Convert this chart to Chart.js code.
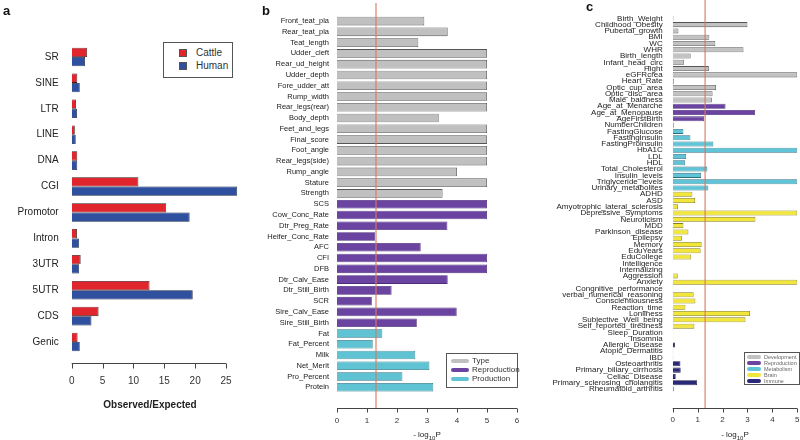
<!DOCTYPE html>
<html>
<head>
<meta charset="utf-8">
<script src="https://cdn.jsdelivr.net/npm/chart.js@4.4.1/dist/chart.umd.min.js"></script>
<style>
    body { margin: 0; background: #fff; font-family: "Liberation Sans", Arial, sans-serif; }
    #wrap { position: relative; width: 800px; height: 440px; overflow: hidden; background: #fff; }
    canvas { position: absolute; top: 0; }
    .tag { position: absolute; font-weight: bold; font-size: 13px; color: #111; }
    .title { position: absolute; color: #222; white-space: nowrap; transform: translateX(-50%); }
    .legend { position: absolute; border: 1px solid #555; background: #fff; color: #333; }
    .legend div { position: relative; white-space: nowrap; }
    .legend span { position: absolute; left: 0; }
</style>
</head>
<body>
<div id="wrap">
    <canvas id="chartA" width="250" height="440" style="left:0"></canvas>
    <canvas id="chartB" width="275" height="440" style="left:250px"></canvas>
    <canvas id="chartC" width="255" height="440" style="left:545px"></canvas>

    <div class="tag" style="left:3px;top:3px">a</div>
    <div class="tag" style="left:262px;top:3px">b</div>
    <div class="tag" style="left:586px;top:-1px">c</div>

    <div class="title" style="left:150px;top:399px;font-size:10px;font-weight:bold">Observed/Expected</div>
    <div class="title" style="left:427px;top:430px;font-size:8px">- log<sub style="font-size:6px">10</sub>P</div>
    <div class="title" style="left:735px;top:430px;font-size:8px">- log<sub style="font-size:6px">10</sub>P</div>

    <div id="legA" class="legend" style="left:163px;top:42px;width:68px;height:34px;font-size:10px"></div>
    <div id="legB" class="legend" style="left:446px;top:353px;width:70px;height:33px;font-size:8px"></div>
    <div id="legC" class="legend" style="left:744px;top:352px;width:54px;height:31px;font-size:5.5px;color:#666"></div>
</div>

<script>
// -------- Panel a --------
const aCategories = ['SR', 'SINE', 'LTR', 'LINE', 'DNA', 'CGI', 'Promotor', 'Intron', '3UTR', '5UTR', 'CDS', 'Genic'];
const aCattle = [2.5, 0.9, 0.7, 0.5, 0.9, 10.8, 15.3, 0.85, 1.45, 12.6, 4.35, 0.95];
const aHuman  = [2.15, 1.3, 0.85, 0.65, 0.9, 26.8, 19.1, 1.2, 1.2, 19.6, 3.2, 1.3];

// -------- Panel b --------
const bTraits = [
    'Front_teat_pla', 'Rear_teat_pla', 'Teat_length', 'Udder_cleft', 'Rear_ud_height', 'Udder_depth',
    'Fore_udder_att', 'Rump_width', 'Rear_legs(rear)', 'Body_depth', 'Feet_and_legs', 'Final_score',
    'Foot_angle', 'Rear_legs(side)', 'Rump_angle', 'Stature', 'Strength',
    'SCS', 'Cow_Conc_Rate', 'Dtr_Preg_Rate', 'Heifer_Conc_Rate', 'AFC', 'CFI', 'DFB',
    'Dtr_Calv_Ease', 'Dtr_Still_Birth', 'SCR', 'Sire_Calv_Ease', 'Sire_Still_Birth',
    'Fat', 'Fat_Percent', 'Milk', 'Net_Merit', 'Pro_Percent', 'Protein'
];
const bValues = [
    2.91, 3.69, 2.71, 5, 5, 5, 5, 5, 5, 3.39, 5, 5, 5, 5, 4.0, 5, 3.52,
    5, 5, 3.68, 1.27, 2.79, 5, 5, 3.69, 1.82, 1.16, 3.99, 2.66,
    1.51, 1.19, 2.61, 3.08, 2.18, 3.21
];
const bGroups = ['Type', 'Reproduction', 'Production'];
const bGroupSizes = [17, 12, 6];

// -------- Panel c --------
const cTraits = [
    'Birth_Weight', 'Childhood_Obesity', 'Pubertal_growth', 'BMI', 'WC', 'WHR', 'Birth_length',
    'Infant_head_circ', 'Hight', 'eGFRcrea', 'Heart_Rate', 'Optic_cup_area', 'Optic_disc_area', 'Male_baldness',
    'Age_at_Menarche', 'Age_at_Menopause', 'AgeFirstBirth', 'NumberChildren',
    'FastingGlucose', 'FastingInsulin', 'FastingProinsulin', 'HbA1C', 'LDL', 'HDL', 'Total_Cholesterol',
    'Insulin_levels', 'Triglyceride_levels', 'Urinary_metabolites',
    'ADHD', 'ASD', 'Amyotrophic_lateral_sclerosis', 'Depressive_Symptoms', 'Neuroticism', 'MDD',
    'Parkinson_disease', 'Epilepsy', 'Memory', 'EduYears', 'EduCollege', 'Intelligence', 'Internalizing',
    'Aggression', 'Anxiety', 'Congnitive_performance', 'verbal_numerical_reasoning', 'Conscientiousness',
    'Reaction_time', 'Lonliness', 'Subjective_Well_being', 'Self_reported_tiredness', 'Sleep_Duration', 'Insomnia',
    'Allergic_Disease', 'Atopic_Dermatitis', 'IBD', 'Osteoarthritis', 'Primary_biliary_cirrhosis',
    'Celiac_Disease', 'Primary_sclerosing_cholangitis', 'Rheumatoid_arthritis'
];
const cValues = [
    0.03, 3.0, 0.23, 1.47, 1.71, 2.84, 0.72, 0.46, 1.45, 5.0, 0.05, 1.74, 1.6, 1.57,
    2.12, 3.3, 1.26, 0.04,
    0.43, 0.71, 1.63, 5.0, 0.54, 0.5, 1.39, 1.14, 5.0, 1.43,
    0.79, 0.9, 0.21, 5.0, 3.32, 0.43, 0.63, 0.37, 1.16, 1.12, 0.74, 0.01, 0.01,
    0.2, 5.0, 0.02, 0.84, 0.91, 0.51, 3.1, 2.92, 0.87, 0.02, 0.02,
    0.09, 0.02, 0.02, 0.31, 0.32, 0.12, 0.98, 0.04
];
const cGroups = ['Development', 'Reproduction', 'Metabolism', 'Brain', 'Immune'];
const cGroupSizes = [14, 4, 10, 24, 8];

// -log10(0.05)
const threshold = 1.3;

// -------- Estilos --------
const FONT = '"Liberation Sans", Arial, sans-serif';
const groupFill = {
    Type: '#c0c0c0', Development: '#c2c2c2', Reproduction: '#6b44a2',
    Production: '#60c3d3', Metabolism: '#5fc4d8', Brain: '#f2e63a', Immune: '#2a2a78'
};
const groupEdge = {
    Type: '#555', Development: '#555', Reproduction: '#4a2c78',
    Production: '#2e6f7e', Metabolism: '#2e6f7e', Brain: '#857b1c', Immune: '#17174a'
};

function expandGroups(groups, sizes, map) {
    const out = [];
    groups.forEach((g, i) => { for (let k = 0; k < sizes[i]; k++) out.push(map[g]); });
    return out;
}

// -------- Eje separado (estilo R) --------
const detachedAxis = {
    id: 'detachedAxis',
    afterDraw(chart, args, opts) {
        const x = chart.scales.x;
        const ctx = chart.ctx;
        const y0 = Math.round(chart.chartArea.bottom + opts.gap) + 0.5;

        if (opts.threshold != null) {
            const tx = x.getPixelForValue(opts.threshold);
            ctx.save();
            ctx.strokeStyle = 'rgba(214,120,95,0.85)';
            ctx.lineWidth = 1.3;
            ctx.beginPath();
            ctx.moveTo(tx, opts.lineTop);
            ctx.lineTo(tx, y0);
            ctx.stroke();
            ctx.restore();
        }

        const ticks = x.ticks;
        const x0 = x.getPixelForValue(ticks[0].value);
        const x1 = x.getPixelForValue(ticks[ticks.length - 1].value);
        ctx.save();
        ctx.strokeStyle = '#444';
        ctx.lineWidth = 1;
        ctx.beginPath();
        ctx.moveTo(x0, y0);
        ctx.lineTo(x1, y0);
        ticks.forEach(t => {
            const px = Math.round(x.getPixelForValue(t.value)) + 0.5;
            ctx.moveTo(px, y0);
            ctx.lineTo(px, y0 + opts.tick);
        });
        ctx.stroke();
        ctx.restore();
    }
};

function buildChart(id, cfg) {
    return new Chart(document.getElementById(id), {
        type: 'bar',
        data: { labels: cfg.labels, datasets: cfg.datasets },
        plugins: [detachedAxis],
        options: {
            indexAxis: 'y',
            responsive: false,
            animation: false,
            devicePixelRatio: 1,
            layout: { padding: { top: cfg.top, right: cfg.right, left: 0, bottom: 0 } },
            plugins: {
                legend: { display: false },
                tooltip: { enabled: false },
                detachedAxis: { gap: cfg.gap, tick: cfg.tick, threshold: cfg.threshold, lineTop: cfg.lineTop }
            },
            scales: {
                x: {
                    type: 'linear',
                    min: 0,
                    max: cfg.max,
                    grid: { display: false },
                    border: { display: false },
                    ticks: {
                        stepSize: cfg.step,
                        includeBounds: false,
                        color: '#333',
                        padding: cfg.xPad,
                        maxRotation: 0,
                        font: { family: FONT, size: cfg.xFont }
                    },
                    afterFit: s => {
                        s.height = cfg.xHeight;
                        // la separación de las etiquetas no debe estrechar el área
                        s.paddingLeft = 0;
                        s.paddingRight = 0;
                    }
                },
                y: {
                    type: 'category',
                    offset: true,
                    grid: { display: false, drawTicks: false },
                    border: { display: false },
                    ticks: {
                        autoSkip: false,
                        color: '#222',
                        padding: cfg.yPad,
                        font: { family: cfg.yFamily || FONT, size: cfg.yFont }
                    },
                    afterFit: s => { s.width = cfg.yWidth; }
                }
            }
        }
    });
}

// Panel a
buildChart('chartA', {
    labels: aCategories,
    datasets: [
        { label: 'Cattle', data: aCattle, backgroundColor: '#e1252d', borderColor: '#3a1a1a', borderWidth: 0.8,
          categoryPercentage: 0.72, barPercentage: 1.0 },
        { label: 'Human', data: aHuman, backgroundColor: '#2f4f9f', borderColor: '#1a2340', borderWidth: 0.8,
          categoryPercentage: 0.72, barPercentage: 1.0 }
    ],
    top: 44, right: 11.6, max: 27, step: 5, xPad: 12, xFont: 10, xHeight: 85,
    yWidth: 71.7, yPad: 13, yFont: 10, gap: 8, tick: 5, threshold: null
});

// Panel b
buildChart('chartB', {
    labels: bTraits,
    datasets: [{
        data: bValues,
        backgroundColor: expandGroups(bGroups, bGroupSizes, groupFill),
        borderColor: expandGroups(bGroups, bGroupSizes, groupEdge),
        borderWidth: 0.8,
        categoryPercentage: 1.0, barPercentage: 0.8
    }],
    top: 15.7, right: 8, max: 6, step: 1, xPad: 15, xFont: 8, xHeight: 47.3,
    yWidth: 87, yPad: 8, yFont: 7.5, gap: 15, tick: 4, threshold: threshold, lineTop: 3
});

// Panel c
buildChart('chartC', {
    labels: cTraits,
    datasets: [{
        data: cValues,
        backgroundColor: expandGroups(cGroups, cGroupSizes, groupFill),
        borderColor: expandGroups(cGroups, cGroupSizes, groupEdge),
        borderWidth: 0.8,
        categoryPercentage: 1.0, barPercentage: 0.8
    }],
    top: 15.2, right: 2.7, max: 5, step: 1, xPad: 15, xFont: 8, xHeight: 47.9,
    yWidth: 127.7, yPad: 10, yFont: 8, yFamily: '"Liberation Sans Narrow", "Liberation Sans", Arial, sans-serif',
    gap: 15.6, tick: 4, threshold: threshold, lineTop: 0
});

// -------- Leyendas --------
function legendBox(id, items, opt) {
    const box = document.getElementById(id);
    items.forEach((it, i) => {
        const row = document.createElement('div');
        row.style.position = 'absolute';
        row.style.left = opt.textX + 'px';
        row.style.top = (opt.y0 + i * opt.dy) + 'px';
        row.style.lineHeight = opt.lh + 'px';
        row.textContent = it.name;
        const sw = document.createElement('span');
        sw.style.left = (opt.swX - opt.textX) + 'px';
        sw.style.top = ((opt.lh - opt.swH) / 2) + 'px';
        sw.style.width = opt.swW + 'px';
        sw.style.height = opt.swH + 'px';
        sw.style.background = it.color;
        sw.style.borderRadius = opt.round ? (opt.swH / 2) + 'px' : '0';
        if (opt.edge) sw.style.border = '1px solid ' + it.edge;
        sw.style.boxSizing = 'border-box';
        row.appendChild(sw);
        box.appendChild(row);
    });
}

legendBox('legA', [
    { name: 'Cattle', color: '#e1252d', edge: '#555' },
    { name: 'Human', color: '#2f4f9f', edge: '#555' }
], { textX: 32, swX: 15, swW: 8, swH: 8, y0: 4, dy: 13, lh: 12, edge: true });

legendBox('legB', bGroups.map(g => ({ name: g, color: groupFill[g] })),
    { textX: 25, swX: 4, swW: 18, swH: 4, y0: 2, dy: 9, lh: 10, round: true });

legendBox('legC', cGroups.map(g => ({ name: g, color: groupFill[g] })),
    { textX: 19, swX: 2, swW: 14, swH: 4, y0: 0.5, dy: 6.2, lh: 6, round: true });
</script>
</body>
</html>
